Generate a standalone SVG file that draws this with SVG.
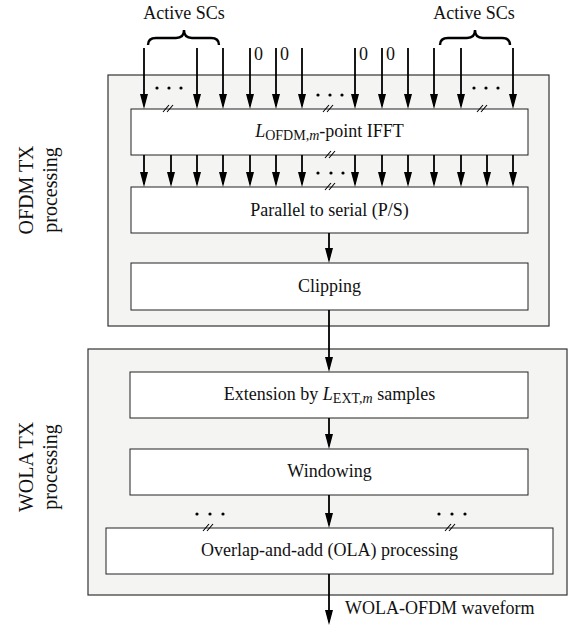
<svg xmlns="http://www.w3.org/2000/svg" width="570" height="627" viewBox="0 0 570 627">
<defs>
<marker id="ah" markerUnits="userSpaceOnUse" markerWidth="15" markerHeight="8" viewBox="0 0 15 8" refX="12" refY="4" orient="auto">
<path d="M0,0 L15,4 L0,8 z" fill="#000"/>
</marker>
<style>
.t{font-family:"Liberation Serif","Times New Roman",serif;font-size:18px;fill:#111}
.side{font-family:"Liberation Serif","Times New Roman",serif;font-size:20px;fill:#111;text-anchor:middle}
.grp{fill:#f4f4f2;stroke:#333;stroke-width:1.2}
.box{fill:#fff;stroke:#222;stroke-width:1}
.ar{stroke:#000;stroke-width:1.8;fill:none;marker-end:url(#ah)}
.sl{stroke:#000;stroke-width:1.1}
.br{stroke:#000;stroke-width:2.4;fill:none}
.dot{fill:#000}
</style>
</defs>
<rect width="570" height="627" fill="#fff"/>

<g id="ofdm-group">
<rect class="grp" x="108" y="75" width="441" height="251"/>
<text class="side" transform="translate(33,190) rotate(-90)">OFDM TX</text>
<text class="side" transform="translate(57,190) rotate(-90)">processing</text>
</g>
<g id="wola-group">
<rect class="grp" x="88" y="349" width="479" height="246"/>
<text class="side" transform="translate(33,467) rotate(-90)">WOLA TX</text>
<text class="side" transform="translate(57,467) rotate(-90)">processing</text>
</g>

<g id="ifft">
<rect class="box" x="131" y="109" width="397" height="46"/>
<text class="t" x="329.5" y="137" text-anchor="middle"><tspan font-style="italic">L</tspan><tspan font-size="14" dy="3">OFDM,</tspan><tspan font-size="14" font-style="italic">m</tspan><tspan dy="-3">-point IFFT</tspan></text>
</g>
<g id="ps">
<rect class="box" x="131" y="187" width="397" height="46"/>
<text class="t" x="329.5" y="216" text-anchor="middle">Parallel to serial (P/S)</text>
</g>
<g id="clipping">
<rect class="box" x="131" y="263" width="397" height="47"/>
<text class="t" x="329.5" y="292" text-anchor="middle">Clipping</text>
</g>
<g id="extension">
<rect class="box" x="130" y="372" width="398" height="46"/>
<text class="t" x="329.5" y="400" text-anchor="middle">Extension by <tspan font-style="italic">L</tspan><tspan font-size="14" dy="3">EXT,</tspan><tspan font-size="14" font-style="italic">m</tspan><tspan dy="-3"> samples</tspan></text>
</g>
<g id="windowing">
<rect class="box" x="130" y="449" width="398" height="46"/>
<text class="t" x="329.5" y="477" text-anchor="middle">Windowing</text>
</g>
<g id="ola">
<rect class="box" x="106" y="528" width="447" height="46"/>
<text class="t" x="329.5" y="556" text-anchor="middle">Overlap-and-add (OLA) processing</text>
</g>

<g id="inputs">
<text class="t" x="184" y="19" text-anchor="middle" font-size="17.5">Active SCs</text>
<text class="t" x="474" y="19" text-anchor="middle" font-size="17.5">Active SCs</text>
<path class="br" d="M148,45 Q148,38 156,38 L176,38 Q184,38 184,30 Q184,38 192,38 L211,38 Q219,38 219,45"/>
<path class="br" d="M440,45 Q440,38 448,38 L467,38 Q475,38 475,30 Q475,38 483,38 L502,38 Q510,38 510,45"/>
<text class="t" x="254" y="60" font-size="15">0</text>
<text class="t" x="280" y="60" font-size="15">0</text>
<text class="t" x="359" y="60" font-size="15">0</text>
<text class="t" x="386" y="60" font-size="15">0</text>
</g>

<g id="connectors">
<line class="ar" x1="144" y1="48" x2="144" y2="106"/>
<line class="ar" x1="197" y1="48" x2="197" y2="106"/>
<line class="ar" x1="223" y1="48" x2="223" y2="106"/>
<line class="ar" x1="250" y1="48" x2="250" y2="106"/>
<line class="ar" x1="276" y1="48" x2="276" y2="106"/>
<line class="ar" x1="302" y1="48" x2="302" y2="106"/>
<line class="ar" x1="355" y1="48" x2="355" y2="106"/>
<line class="ar" x1="382" y1="48" x2="382" y2="106"/>
<line class="ar" x1="408" y1="48" x2="408" y2="106"/>
<line class="ar" x1="434" y1="48" x2="434" y2="106"/>
<line class="ar" x1="461" y1="48" x2="461" y2="106"/>
<line class="ar" x1="513" y1="48" x2="513" y2="106"/>

<line class="ar" x1="144" y1="155" x2="144" y2="184"/>
<line class="ar" x1="171" y1="155" x2="171" y2="184"/>
<line class="ar" x1="197" y1="155" x2="197" y2="184"/>
<line class="ar" x1="223" y1="155" x2="223" y2="184"/>
<line class="ar" x1="250" y1="155" x2="250" y2="184"/>
<line class="ar" x1="276" y1="155" x2="276" y2="184"/>
<line class="ar" x1="302" y1="155" x2="302" y2="184"/>
<line class="ar" x1="355" y1="155" x2="355" y2="184"/>
<line class="ar" x1="382" y1="155" x2="382" y2="184"/>
<line class="ar" x1="408" y1="155" x2="408" y2="184"/>
<line class="ar" x1="434" y1="155" x2="434" y2="184"/>
<line class="ar" x1="461" y1="155" x2="461" y2="184"/>
<line class="ar" x1="487" y1="155" x2="487" y2="184"/>
<line class="ar" x1="513" y1="155" x2="513" y2="184"/>

<line class="ar" x1="329" y1="233" x2="329" y2="260"/>
<line class="ar" x1="329" y1="310" x2="329" y2="369"/>
<line class="ar" x1="329" y1="418" x2="329" y2="446"/>
<line class="ar" x1="329" y1="495" x2="329" y2="525"/>
<line class="ar" x1="329" y1="574" x2="329" y2="622"/>
</g>

<g id="marks">
<circle class="dot" cx="157" cy="88" r="1.6"/><circle class="dot" cx="169" cy="88" r="1.6"/><circle class="dot" cx="181" cy="88" r="1.6"/>
<circle class="dot" cx="318" cy="95" r="1.6"/><circle class="dot" cx="330" cy="95" r="1.6"/><circle class="dot" cx="342" cy="95" r="1.6"/>
<circle class="dot" cx="474" cy="88" r="1.6"/><circle class="dot" cx="486" cy="88" r="1.6"/><circle class="dot" cx="498" cy="88" r="1.6"/>
<circle class="dot" cx="318" cy="173" r="1.6"/><circle class="dot" cx="331" cy="173" r="1.6"/><circle class="dot" cx="343" cy="173" r="1.6"/>
<circle class="dot" cx="197" cy="514" r="1.6"/><circle class="dot" cx="210" cy="514" r="1.6"/><circle class="dot" cx="223" cy="514" r="1.6"/>
<circle class="dot" cx="439" cy="514" r="1.6"/><circle class="dot" cx="452" cy="514" r="1.6"/><circle class="dot" cx="465" cy="514" r="1.6"/>
<path class="sl" d="M163,112 L169,105 M167,112 L173,105"/>
<path class="sl" d="M323,112 L329,105 M327,112 L333,105"/>
<path class="sl" d="M477,112 L483,105 M481,112 L487,105"/>
<path class="sl" d="M325,158 L331,151 M329,158 L335,151"/>
<path class="sl" d="M325,190 L331,183 M329,190 L335,183"/>
<path class="sl" d="M203,531 L209,524 M207,531 L213,524"/>
<path class="sl" d="M445,531 L451,524 M449,531 L455,524"/>
</g>

<g id="output-label">
<text class="t" x="345" y="614">WOLA-OFDM waveform</text>
</g>
</svg>
